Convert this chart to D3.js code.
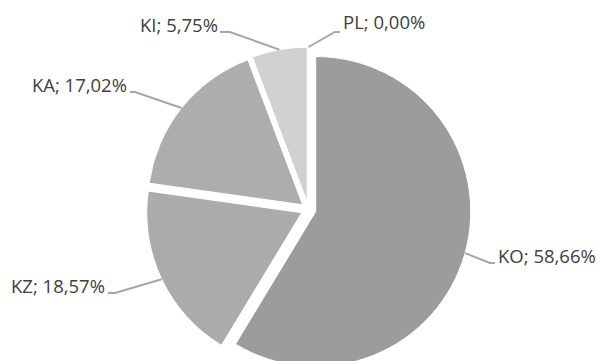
<!DOCTYPE html>
<html>
<head>
<meta charset="utf-8">
<script src="https://cdn.jsdelivr.net/npm/d3@7"></script>
<style>
  html, body { margin: 0; padding: 0; background: #ffffff; }
  svg { display: block; }
</style>
</head>
<body>
<svg id="chart" width="598" height="361"></svg>
<script>
// ---- data ----
const categories = ["KO", "KZ", "KA", "KI", "PL"];
const values = [58.66, 18.57, 17.02, 5.75, 0.00];
const labelTexts = ["KO; 58,66%", "KZ; 18,57%", "KA; 17,02%", "KI; 5,75%", "PL; 0,00%"];

// ---- layout / style ----
const W = 598, H = 361;
const cx = 308.5, cy = 209.5, radius = 155, explode = 7.5;
const colors = { KO: "#9c9c9c", KZ: "#ababab", KA: "#adadad", KI: "#d1d1d1", PL: "#c4c4c4" };
// label layout: elbow point and text anchor (per category)
const labelLayout = {
  KO: { elbow: [490, 263], end: [495, 263], text: [498, 263], anchor: "start" },
  KZ: { elbow: [115, 293], end: [108, 293], text: [105, 293], anchor: "end" },
  KA: { elbow: [135, 92],  end: [130, 92],  text: [127, 92],  anchor: "end" },
  KI: { elbow: [230, 32],  end: [220, 32],  text: [218, 32],  anchor: "end" },
  PL: { elbow: [335, 32],  end: [340, 32],  text: [343, 29],  anchor: "start" }
};

const svg = d3.select("#chart");
svg.append("rect").attr("width", W).attr("height", H).attr("fill", "#ffffff");

const data = categories.map((c, i) => ({ cat: c, value: values[i], label: labelTexts[i] }));

const pie = d3.pie().value(d => d.value).sort(null);
const arcs = pie(data);
const arc = d3.arc().innerRadius(0).outerRadius(radius);

const g = svg.append("g").attr("transform", `translate(${cx},${cy})`);

function offset(d) {
  const a = (d.startAngle + d.endAngle) / 2;
  return [Math.sin(a) * explode, -Math.cos(a) * explode];
}

g.selectAll("path.slice")
  .data(arcs.filter(d => d.value > 0))
  .join("path")
  .attr("class", "slice")
  .attr("d", arc)
  .attr("transform", d => { const o = offset(d); return `translate(${o[0]},${o[1]})`; })
  .attr("fill", d => colors[d.data.cat])
  .attr("stroke", "#ffffff")
  .attr("stroke-width", 1);

// leader lines
const lines = svg.append("g");
arcs.forEach(d => {
  const a = (d.startAngle + d.endAngle) / 2;
  const o = offset(d);
  const sx = cx + o[0] + Math.sin(a) * radius;
  const sy = cy + o[1] - Math.cos(a) * radius;
  const L = labelLayout[d.data.cat];
  lines.append("polyline")
    .attr("points", [[sx, sy], L.elbow, L.end].map(p => p.join(",")).join(" "))
    .attr("fill", "none")
    .attr("stroke", "#a6a6a6")
    .attr("stroke-width", 2);
  svg.append("text")
    .attr("x", L.text[0])
    .attr("y", L.text[1])
    .attr("text-anchor", L.anchor)
    .attr("font-family", "'Open Sans', sans-serif")
    .attr("font-size", 18.5)
    .attr("fill", "#404040")
    .text(d.data.label);
});
</script>
</body>
</html>
